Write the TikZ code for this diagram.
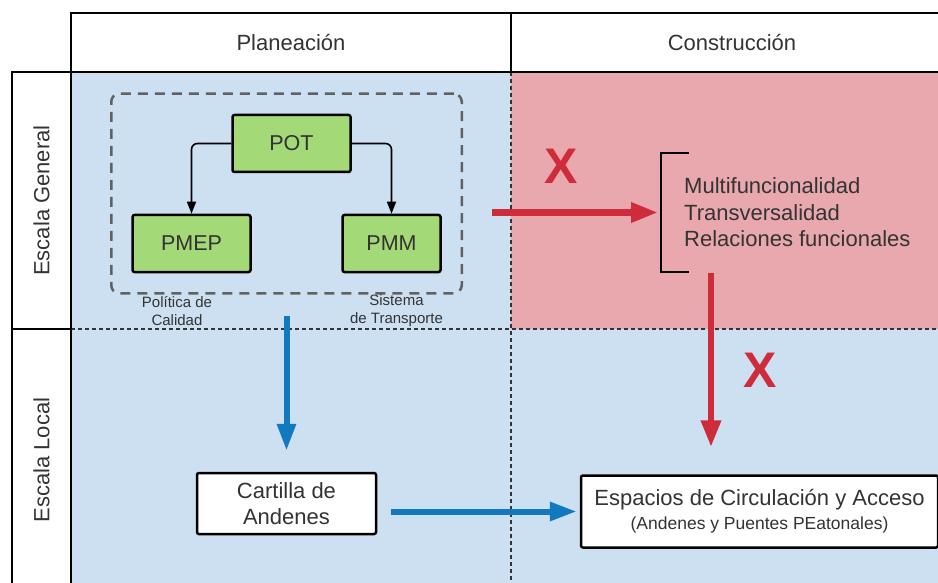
\documentclass[tikz,border=0pt]{standalone}
\usepackage{fontspec}
\setmainfont{Liberation Sans}
\usetikzlibrary{arrows.meta, positioning, fit, calc}

\definecolor{cellblue}{RGB}{204,224,242}
\definecolor{cellpink}{RGB}{233,168,173}
\definecolor{boxgreen}{RGB}{163,217,119}
\definecolor{xred}{RGB}{206,44,58}
\definecolor{xblue}{RGB}{16,121,191}
\definecolor{txtgray}{RGB}{51,51,51}

\begin{document}
\begin{tikzpicture}[
  x=1pt, y=-1pt,
  border/.style={draw=black, line width=2.5pt},
  grid/.style={draw=txtgray, line width=2.2pt, dash pattern=on 4pt off 3pt},
  title/.style={text=txtgray, font=\fontsize{22}{26.5}\selectfont},
  greenbox/.style={rectangle, draw, fill=boxgreen, line width=2.5pt, rounded corners=2pt, minimum height=57pt, text=txtgray, font=\fontsize{21.5}{25}\selectfont},
  whitebox/.style={rectangle, draw, fill=white, line width=2.5pt, rounded corners=2pt, align=center, text=txtgray, font=\fontsize{22}{26}\selectfont},
  group/.style={draw=black!62, line width=2.5pt, dash pattern=on 10pt off 7pt, rounded corners=8pt, inner sep=20pt},
  arrow/.style={-{Triangle[length=12pt, width=9pt]}, line width=1.6pt, rounded corners=6pt},
  bluearrow/.style={-{Triangle[length=27pt, width=18pt]}, draw=xblue, line width=6pt},
  redarrow/.style={-{Triangle[length=27pt, width=19pt]}, draw=xred, line width=6.5pt},
  note/.style={align=center, text=txtgray, font=\fontsize{15}{18}\selectfont},
  cross/.style={text=xred, font=\fontsize{50}{50}\selectfont\bfseries}
]
\useasboundingbox (0,0) rectangle (938,583);
\clip (0,0) rectangle (938,583);

% Cells
\fill[cellblue] (71,72) rectangle (955,600);
\fill[cellpink] (511,72) rectangle (955,329);
\draw[grid] (71,329) -- (955,329);
\draw[grid] (511,72) -- (511,600);

% Header row
\draw[border] (71,13) rectangle (955,72);
\draw[border] (511,13) -- (511,72);
\node[title] (plan) at (291,42.5) {Planeación};
\node[title] (cons) at (732,42.5) {Construcción};

% Scale column
\draw[border] (12,72) rectangle (71,600);
\draw[border] (12,329) -- (71,329);
\node[title, rotate=90] (general) at (41.5,200.5) {Escala General};
\node[title, rotate=90] (local) at (41.5,460) {Escala Local};

% Planning, general scale
\node[greenbox, minimum width=118pt] (pot) at (291.5,143.5) {POT};
\node[greenbox, minimum width=118pt] (pmep) at (191.5,243.5) {PMEP};
\node[greenbox, minimum width=98pt] (pmm) at (391.5,243.5) {PMM};
\node[group, fit=(pot)(pmep)(pmm)] (grp) {};
\draw[arrow] (pot.west) -| (pmep.north);
\draw[arrow] (pot.east) -| (pmm.north);
\node[note] (calidad) at (177,311) {Política de\\Calidad};
\node[note] (transporte) at (396.5,311) {Sistema\\de Transporte};

% Construction, general scale
\node[anchor=west, minimum height=119pt, inner xsep=23pt, inner ysep=0pt, align=left, title] (lista) at (661,212.5)
  {Multifuncionalidad\\Transversalidad\\Relaciones funcionales};
\draw[line width=2.5pt] ($(lista.north west)+(28,0)$) -- (lista.north west) -- (lista.south west) -- ++(28,0);

% Local scale
\node[whitebox, minimum width=179pt, minimum height=61pt] (cart) at (286.5,503.5) {Cartilla de\\Andenes};
\node[whitebox, minimum width=357pt, minimum height=72pt, font=\fontsize{22}{24}\selectfont] (esp) at (759.5,511.5)
  {Espacios de Circulación y Acceso\\{\fontsize{17.5}{21}\selectfont (Andenes y Puentes PEatonales)}};

% Arrows
\draw[redarrow, shorten <=29pt, shorten >=3pt] (grp.east |- lista.west) -- (lista.west);
\coordinate (rdown) at ($(lista.south west)+(50,1)$);
\draw[redarrow, shorten >=27pt] (rdown) -- (rdown |- esp.north);
\draw[bluearrow, shorten <=21pt, shorten >=21pt] (cart |- grp.south) -- (cart.north);
\draw[bluearrow, shorten <=14pt, shorten >=3pt] (cart.east |- esp.west) -- (esp.west);

% Crosses
\node[cross] (x1) at (561,166.5) {X};
\node[cross] (x2) at (760.5,370) {X};
\end{tikzpicture}
\end{document}
